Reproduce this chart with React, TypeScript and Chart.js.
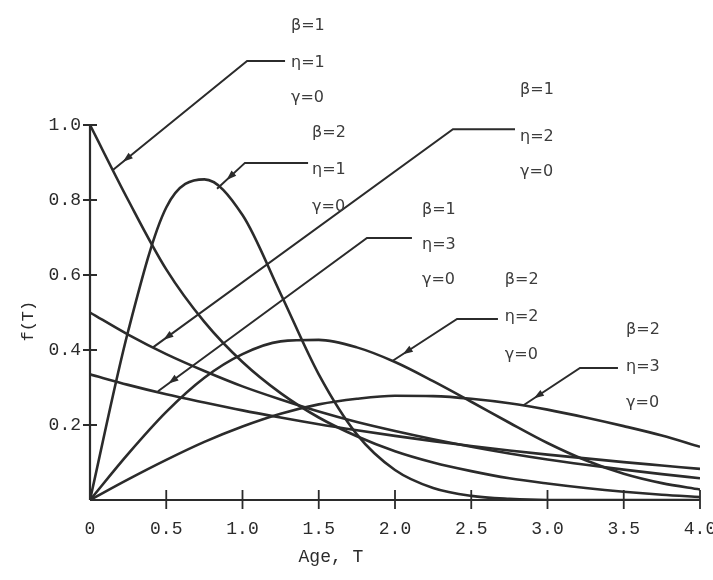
import React, { useEffect, useRef } from 'react';
import { Chart, registerables } from 'chart.js';
Chart.register(...registerables);

// Age values (T) at which curves were read
const T = [0, 0.25, 0.5, 0.75, 1, 1.25, 1.5, 1.75, 2, 2.25, 2.5, 2.75, 3, 3.25, 3.5, 3.75, 4];

// f(T) values
const B1_N1 = [1.0, 0.8, 0.615, 0.475, 0.368, 0.285, 0.22, 0.17, 0.13, 0.1, 0.077, 0.058, 0.044, 0.032, 0.022, 0.014, 0.008];
const B2_N1 = [0, 0.45, 0.78, 0.855, 0.76, 0.55, 0.335, 0.175, 0.08, 0.032, 0.011, 0.003, 0, 0, 0, 0, 0];
const B1_N2 = [0.5, 0.441, 0.389, 0.344, 0.303, 0.268, 0.236, 0.208, 0.184, 0.162, 0.142, 0.124, 0.108, 0.094, 0.081, 0.069, 0.058];
const B1_N3 = [0.335, 0.307, 0.282, 0.26, 0.239, 0.22, 0.202, 0.186, 0.171, 0.157, 0.144, 0.132, 0.121, 0.111, 0.101, 0.092, 0.083];
const B2_N2 = [0, 0.123, 0.235, 0.326, 0.389, 0.423, 0.427, 0.407, 0.368, 0.317, 0.262, 0.206, 0.152, 0.106, 0.07, 0.045, 0.028];
const B2_N3 = [0, 0.055, 0.107, 0.155, 0.196, 0.23, 0.255, 0.27, 0.278, 0.277, 0.27, 0.258, 0.241, 0.22, 0.197, 0.172, 0.142];

const SERIES = [B1_N1, B2_N1, B1_N2, B1_N3, B2_N2, B2_N3];

const X_TICK_LABELS = ['0', '0.5', '1.0', '1.5', '2.0', '2.5', '3.0', '3.5', '4.0'];
const Y_TICK_LABELS = ['0.2', '0.4', '0.6', '0.8', '1.0'];
const X_TITLE = 'Age, T';
const Y_TITLE = 'f(T)';

// Annotation groups (data coordinates)
const LABEL_TEXT = [
  ['β=1', 'η=1', 'γ=0'],
  ['β=2', 'η=1', 'γ=0'],
  ['β=1', 'η=2', 'γ=0'],
  ['β=1', 'η=3', 'γ=0'],
  ['β=2', 'η=2', 'γ=0'],
  ['β=2', 'η=3', 'γ=0'],
];
const LABEL_X = [1.318, 1.456, 2.82, 2.177, 2.72, 3.515];
const LABEL_Y = [
  [1.264, 1.165, 1.072],
  [0.979, 0.88, 0.781],
  [1.093, 0.968, 0.875],
  [0.773, 0.68, 0.587],
  [0.587, 0.488, 0.387],
  [0.453, 0.355, 0.259],
];
const LEADER_TIP = [[0.15, 0.88], [0.833, 0.83], [0.413, 0.407], [0.446, 0.29], [1.98, 0.37], [2.84, 0.252]];
const LEADER_ELBOW = [[1.03, 1.171], [1.016, 0.899], [2.38, 0.989], [1.816, 0.699], [2.407, 0.483], [3.213, 0.352]];
const LEADER_END_X = [1.279, 1.43, 2.787, 2.111, 2.675, 3.462];

const INK = '#2b2b2b';
const TEXT_INK = '#3c3c3c';

const decorPlugin = {
  id: 'decor',
  beforeDraw(chart: any) {
    const ctx = chart.ctx;
    ctx.save();
    ctx.fillStyle = '#ffffff';
    ctx.fillRect(0, 0, chart.width, chart.height);
    ctx.restore();
  },
  afterDraw(chart: any) {
    const ctx = chart.ctx;
    const xs = chart.scales.x;
    const ys = chart.scales.y;
    const px = (v: number) => xs.getPixelForValue(v);
    const py = (v: number) => ys.getPixelForValue(v);
    ctx.save();
    // axes
    ctx.strokeStyle = INK;
    ctx.lineWidth = 2.2;
    ctx.beginPath();
    ctx.moveTo(px(0), py(0));
    ctx.lineTo(px(4), py(0));
    ctx.moveTo(px(0), py(0));
    ctx.lineTo(px(0), py(1));
    ctx.stroke();
    ctx.lineWidth = 1.8;
    ctx.beginPath();
    for (let i = 1; i < X_TICK_LABELS.length; i++) {
      const x = px(i * 0.5);
      ctx.moveTo(x, py(0) - 10);
      ctx.lineTo(x, py(0) + 9);
    }
    for (let i = 0; i < Y_TICK_LABELS.length; i++) {
      const y = py((i + 1) * 0.2);
      ctx.moveTo(px(0) - 7, y);
      ctx.lineTo(px(0) + 7, y);
    }
    ctx.stroke();

    // leaders
    ctx.lineWidth = 2;
    ctx.fillStyle = INK;
    for (let g = 0; g < LEADER_TIP.length; g++) {
      const tx = px(LEADER_TIP[g][0]);
      const ty = py(LEADER_TIP[g][1]);
      const ex = px(LEADER_ELBOW[g][0]);
      const ey = py(LEADER_ELBOW[g][1]);
      const fx = px(LEADER_END_X[g]);
      ctx.beginPath();
      ctx.moveTo(tx, ty);
      ctx.lineTo(ex, ey);
      ctx.lineTo(fx, ey);
      ctx.stroke();
      const dx = tx - ex;
      const dy = ty - ey;
      const len = Math.hypot(dx, dy);
      const ux = dx / len;
      const uy = dy / len;
      const ax = tx - ux * 13;
      const ay = ty - uy * 13;
      const bx = ax - ux * 10;
      const by = ay - uy * 10;
      ctx.beginPath();
      ctx.moveTo(ax, ay);
      ctx.lineTo(bx - uy * 3.5, by + ux * 3.5);
      ctx.lineTo(bx + uy * 3.5, by - ux * 3.5);
      ctx.closePath();
      ctx.fill();
    }

    // labels
    ctx.fillStyle = TEXT_INK;
    ctx.font = '16px "DejaVu Sans"';
    ctx.textAlign = 'left';
    ctx.textBaseline = 'middle';
    for (let g = 0; g < LABEL_TEXT.length; g++) {
      for (let k = 0; k < 3; k++) {
        ctx.fillText(LABEL_TEXT[g][k], px(LABEL_X[g]), py(LABEL_Y[g][k]));
      }
    }

    // axis titles
    ctx.fillStyle = INK;
    ctx.font = '18px "Liberation Mono"';
    ctx.textAlign = 'center';
    ctx.fillText(X_TITLE, px(1.58), py(0) + 57);
    ctx.save();
    ctx.translate(px(0) - 62, py(0.477));
    ctx.rotate(-Math.PI / 2);
    ctx.font = '17px "Liberation Mono"';
    ctx.fillText(Y_TITLE, 0, 0);
    ctx.restore();
    ctx.restore();
  },
};

export default function App() {
  const ref = useRef<HTMLCanvasElement>(null);
  useEffect(() => {
    const chart = new Chart(ref.current as HTMLCanvasElement, {
      type: 'line',
      data: {
        datasets: SERIES.map((s) => ({
          data: T.map((t, i) => ({ x: t, y: s[i] })),
          borderColor: INK,
          borderWidth: 2.6,
          pointRadius: 0,
          fill: false,
          cubicInterpolationMode: 'monotone' as const,
        })),
      },
      options: {
        animation: false,
        responsive: false,
        devicePixelRatio: 1,
        layout: { padding: { top: 125, right: 13, bottom: 0, left: 0 } },
        plugins: { legend: { display: false }, tooltip: { enabled: false } },
        scales: {
          x: {
            type: 'linear',
            min: 0,
            max: 4,
            grid: { display: false, drawTicks: false, tickLength: 0 },
            border: { display: false },
            ticks: {
              stepSize: 0.5,
              autoSkip: false,
              maxRotation: 0,
              padding: 18,
              color: INK,
              font: { family: 'Liberation Mono', size: 18 },
              callback: (v: any) => X_TICK_LABELS[Math.round(Number(v) / 0.5)] ?? '',
            },
            afterFit: (scale: any) => {
              scale.height = 80;
              scale.paddingLeft = 0;
              scale.paddingRight = 0;
            },
          },
          y: {
            min: 0,
            max: 1,
            grid: { display: false, drawTicks: false, tickLength: 0 },
            border: { display: false },
            ticks: {
              stepSize: 0.2,
              padding: 9,
              color: INK,
              font: { family: 'Liberation Mono', size: 18 },
              callback: (v: any) => {
                const i = Math.round(Number(v) / 0.2) - 1;
                return i >= 0 ? Y_TICK_LABELS[i] : '';
              },
            },
            afterFit: (scale: any) => {
              scale.width = 90;
              scale.paddingTop = 0;
              scale.paddingBottom = 0;
            },
          },
        },
      },
      plugins: [decorPlugin],
    } as any);
    return () => chart.destroy();
  }, []);
  return (
    <div style={{ position: 'fixed', left: 0, top: 0, width: 713, height: 580, background: '#fff' }}>
      <canvas ref={ref} width={713} height={580} style={{ display: 'block', width: 713, height: 580 }} />
    </div>
  );
}
